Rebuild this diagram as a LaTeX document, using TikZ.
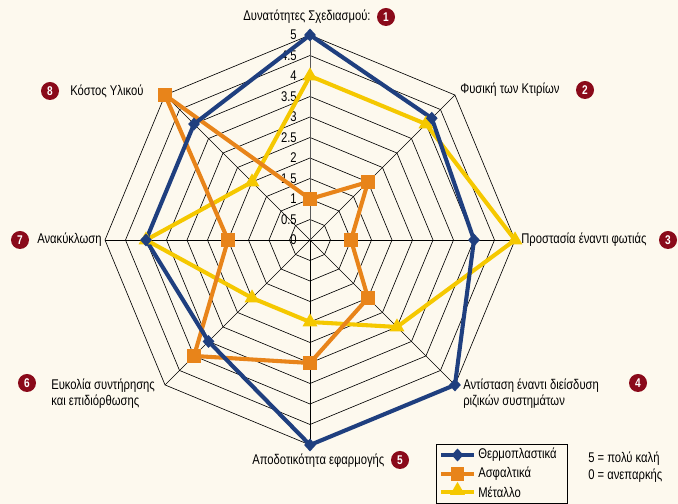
\documentclass[tikz,border=0pt]{standalone}
\usepackage{fontspec}
\setmainfont[FakeStretch=0.8]{Liberation Sans}
\usetikzlibrary{shapes.geometric}
\definecolor{paper}{HTML}{FDF9EE}
\definecolor{thermoblue}{HTML}{1F3F7F}
\definecolor{asphaltorange}{HTML}{E8841A}
\definecolor{metalyellow}{HTML}{F5C800}
\definecolor{numred}{HTML}{8A0A1A}
\tikzset{
  gridline/.style={black, line width=0.45pt},
  serie/.style={line width=2.9pt, line join=miter},
  numdot/.style={circle, fill=numred, text=white, font=\bfseries\fontsize{9}{9}\selectfont, inner sep=0pt, minimum size=0.45cm},
  lbl/.style={anchor=west, align=left, inner sep=0pt, font=\fontsize{10}{11.5}\selectfont},
  tick/.style={anchor=east, inner sep=0pt, font=\fontsize{10}{10}\selectfont},
  diam/.style={diamond, fill=thermoblue, inner sep=0pt, minimum width=0.3cm, minimum height=0.33cm},
  sq/.style={rectangle, fill=asphaltorange, inner sep=0pt, minimum size=0.33cm},
  tri/.style={regular polygon, regular polygon sides=3, fill=metalyellow, inner sep=0pt, minimum size=0.43cm},
}
\begin{document}
\begin{tikzpicture}[x=0.025cm, y=0.025cm]
\fill[paper] (0,0) rectangle (678,504);
\useasboundingbox (0,0) rectangle (678,504);
% radar grid
\begin{scope}[shift={(310,264)}]
\foreach \r in {1,...,10}
  \draw[gridline] (90:\r*20.5) \foreach \a in {45,0,-45,-90,-135,-180,-225} { -- (\a:\r*20.5) } -- cycle;
\foreach \a in {45,0,-45,-90,-135,-180,-225}
  \draw[gridline] (0,0) -- (\a:205);
\draw[gray!70!black, line width=0.7pt] (0,0) -- (90:205);
\foreach \t [count=\i from 0] in {0,0.5,1,1.5,2,2.5,3,3.5,4,4.5,5}
  \node[tick] (tick\i) at (-13,\i*20.5) {\t};
% data
\foreach \v [count=\i] in {5,4.2,4,5,5,3.5,4,4}
  \coordinate (T\i) at ({90-45*(\i-1)}:\v*41);
\foreach \v [count=\i] in {1,2,1,2,3,4,2,5}
  \coordinate (A\i) at ({90-45*(\i-1)}:\v*41);
\foreach \v [count=\i] in {4,4,5,3,2,2,4,2}
  \coordinate (M\i) at ({90-45*(\i-1)}:\v*41);
\draw[serie, metalyellow] (M1) -- (M2) -- (M3) -- (M4) -- (M5) -- (M6) -- (M7) -- (M8) -- cycle;
\draw[serie, asphaltorange] (A1) -- (A2) -- (A3) -- (A4) -- (A5) -- (A6) -- (A7) -- (A8) -- cycle;
\draw[serie, thermoblue] (T1) -- (T2) -- (T3) -- (T4) -- (T5) -- (T6) -- (T7) -- (T8) -- cycle;
\foreach \i in {1,...,8} {
  \node[tri] (mtri\i) at (M\i) {};
  \node[sq] (asq\i) at (A\i) {};
  \node[diam] (tdiam\i) at (T\i) {};
}
\end{scope}
% axis labels
\node[lbl, anchor=center] (lab1) at (307,487) {Δυνατότητες Σχεδιασμού:};
\node[numdot] (n1) at (386,487) {1};
\node[lbl] (lab2) at (460,414) {Φυσική των Κτιρίων};
\node[numdot] (n2) at (585,414) {2};
\node[lbl] (lab3) at (521,264) {Προστασία έναντι φωτιάς};
\node[numdot] (n3) at (668,264) {3};
\node[lbl] (lab4) at (463,110) {Αντίσταση έναντι διείσδυση\\ριζικών συστημάτων};
\node[numdot] (n4) at (638,121) {4};
\node[lbl] (lab5) at (252,43) {Αποδοτικότητα εφαρμογής};
\node[numdot] (n5) at (400,44) {5};
\node[lbl] (lab6) at (51,110) {Ευκολία συντήρησης\\και επιδιόρθωσης};
\node[numdot] (n6) at (27,121) {6};
\node[lbl] (lab7) at (37,264) {Ανακύκλωση};
\node[numdot] (n7) at (20,264) {7};
\node[lbl] (lab8) at (70,413) {Κόστος Υλικού};
\node[numdot] (n8) at (50,413) {8};
% legend
\draw[black, line width=0.6pt] (436,0.5) rectangle (567,60);
\draw[serie, thermoblue] (441,49) -- (474,49);
\node[diam] (legT) at (457.5,49) {};
\node[lbl] (legTtxt) at (478,49) {Θερμοπλαστικά};
\draw[serie, asphaltorange] (441,30) -- (474,30);
\node[sq] (legA) at (457.5,30) {};
\node[lbl] (legAtxt) at (478,30) {Ασφαλτικά};
\draw[serie, metalyellow] (441,12) -- (474,12);
\node[tri] (legM) at (457.5,13.5) {};
\node[lbl] (legMtxt) at (478,12) {Μέταλλο};
\node[lbl] (scale5) at (588,45) {5 = πολύ καλή};
\node[lbl] (scale0) at (588,28) {0 = ανεπαρκής};
\end{tikzpicture}
\end{document}
